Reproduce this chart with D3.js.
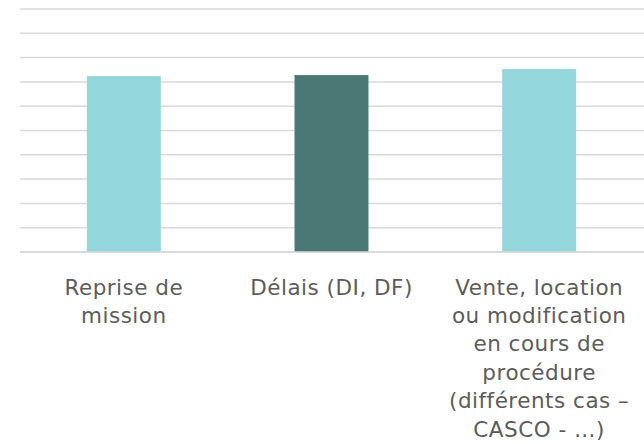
<!DOCTYPE html>
<html>
<head>
    <meta charset="UTF-8">
    <title>chart</title>
    <script src="https://d3js.org/d3.v7.min.js"></script>
    <style>
        body { margin: 0; background: #ffffff; }
        .lbl { font-family: "Century Gothic", "DejaVu Sans", sans-serif; font-size: 21.5px; letter-spacing: 0.5px; fill: #5c5c5c; }
    </style>
</head>
<body>
<svg id="chart"></svg>
<script>
    // categories (wrapped as in the picture) and values
    var categories = ["Reprise de mission", "Délais (DI, DF)", "Vente, location ou modification en cours de procédure (différents cas – CASCO - …)"];
    var labelLines = [
        ["Reprise de", "mission"],
        ["Délais (DI, DF)"],
        ["Vente, location", "ou modification", "en cours de", "procédure", "(différents cas –", "CASCO - …)"]
    ];
    var values = [7.24, 7.28, 7.53];
    var barColors = ["#93d7dd", "#497874", "#93d7dd"];
    var gridTicks = [0, 1, 2, 3, 4, 5, 6, 7, 8, 9, 10];

    var W = 644, H = 444;
    var svg = d3.select("#chart").attr("width", W).attr("height", H);

    var x = d3.scaleBand().domain(categories).range([20, 643]).paddingInner(0.644).paddingOuter(0.322);
    var y = d3.scaleLinear().domain([0, 10]).range([252, 9]);

    // gridlines
    svg.append("g").selectAll("line").data(gridTicks).enter().append("line")
        .attr("x1", 20).attr("x2", W)
        .attr("y1", function (d) { return y(d); })
        .attr("y2", function (d) { return y(d); })
        .attr("stroke", "#d9d9d9")
        .attr("stroke-width", 1.5);

    // bars
    svg.append("g").selectAll("rect").data(values).enter().append("rect")
        .attr("x", function (d, i) { return x(categories[i]); })
        .attr("width", x.bandwidth())
        .attr("y", function (d) { return y(d); })
        .attr("height", function (d) { return y(0) - y(d); })
        .attr("fill", function (d, i) { return barColors[i]; });

    // baseline over bars
    svg.append("line")
        .attr("x1", 20).attr("x2", W)
        .attr("y1", y(0)).attr("y2", y(0))
        .attr("stroke", "#d9d9d9").attr("stroke-width", 1.5);

    // category labels, one text per line
    var cols = svg.append("g").selectAll("g").data(labelLines).enter().append("g")
        .attr("transform", function (d, i) {
            return "translate(" + (x(categories[i]) + x.bandwidth() / 2) + ",294.5)";
        });
    cols.selectAll("text").data(function (d) { return d; }).enter().append("text")
        .attr("class", "lbl")
        .attr("text-anchor", "middle")
        .attr("y", function (d, j) { return j * 28.4; })
        .text(function (d) { return d; });
</script>
</body>
</html>
